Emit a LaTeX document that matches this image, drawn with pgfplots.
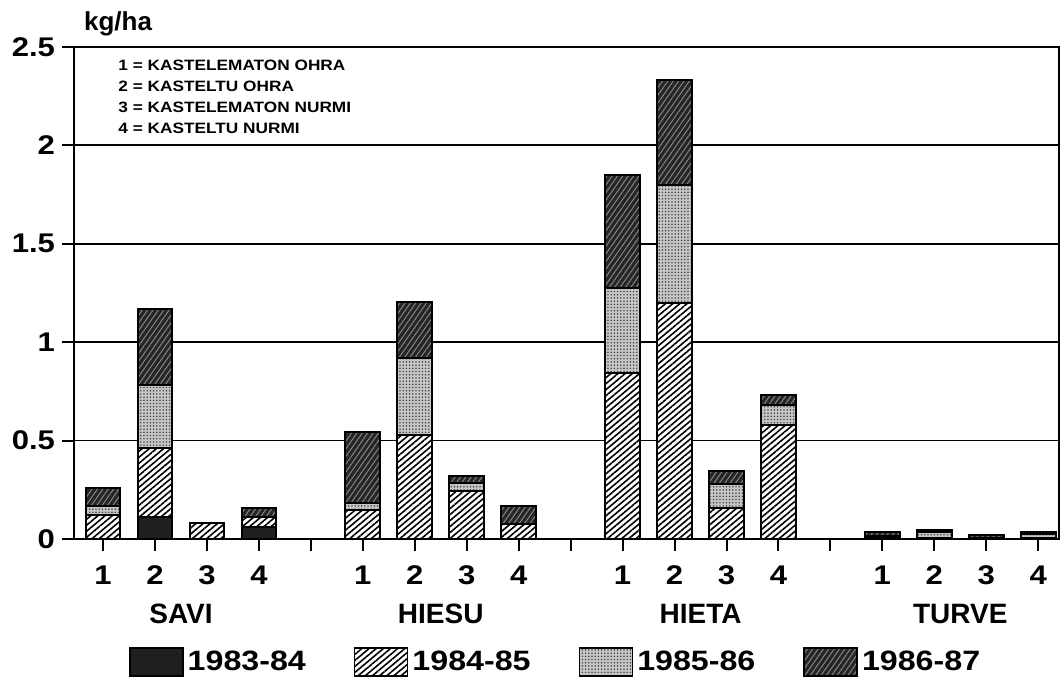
\documentclass[border=0pt]{standalone}
\usepackage{fontspec}
\setmainfont{Liberation Sans}[FakeStretch=1.15]
\newfontfamily\grpfont{Liberation Sans}
\usepackage{pgfplots}
\usepackage{pgfplotstable}
\pgfplotsset{compat=1.18}
\usetikzlibrary{patterns,patterns.meta}

\pgfplotstableread{
x    a b c d
0    0    0.12  0.05  0.09
1    0.11 0.35  0.32  0.39
2    0    0.08  0     0
3    0.06 0.05  0     0.05
5    0    0.145 0.04  0.36
6    0    0.53  0.39  0.285
7    0    0.245 0.04  0.035
8    0    0.075 0     0.095
10   0    0.845 0.43  0.575
11   0    1.20  0.60  0.53
12   0    0.16  0.12  0.065
13   0    0.58  0.10  0.05
15   0    0.005 0.01  0.02
16   0    0.005 0.03  0.01
17   0    0.005 0     0.015
18   0    0.005 0.02  0.01
}\datatable

\pgfplotsset{
  legimg/.style={legend image code/.code={\draw[##1,line width=0.8pt] (0pt,-7pt) rectangle (26.5pt,7pt);}},
  s83/.style={draw=black, line width=1pt, fill=black!88, legimg},
  s84/.style={draw=black, line width=1pt, fill=white,
     postaction={pattern={Lines[angle=40,distance=2.3pt,line width=0.8pt]}, pattern color=black}, legimg},
  s85/.style={draw=black, line width=1pt, fill=black!22,
     postaction={pattern={Dots[distance=1.6pt,radius=0.45pt]}, pattern color=black!70}, legimg},
  s86/.style={draw=black, line width=1pt, fill=black!85,
     postaction={pattern={Lines[angle=55,distance=2.2pt,line width=0.45pt]}, pattern color=black!45}, legimg},
}

\begin{document}
\begin{tikzpicture}
\begin{axis}[
  name=main,
  scale only axis,
  width=492.5pt, height=246pt,
  xmin=-0.56, xmax=18.4,
  ymin=0, ymax=2.5,
  ybar stacked,
  bar width=0.67,
  axis line style={line width=1pt},
  ymajorgrids,
  grid style={black, line width=0.9pt},
  tick style={black, line width=1pt},
  major tick length=6pt,
  tick align=outside,
  xtick pos=bottom, ytick pos=left,
  ytick={0,0.5,1,1.5,2,2.5},
  yticklabels={0,0.5,1,1.5,2,2.5},
  xtick={0,...,18},
  xticklabels={1,2,3,4,{},1,2,3,4,{},1,2,3,4,{},1,2,3,4},
  /pgf/number format/assume math mode=true,
  yticklabel style={font=\bfseries\fontsize{13.5}{15}\selectfont},
  xticklabel style={font=\bfseries\fontsize{13.5}{15}\selectfont, yshift=-4pt},
  extra x ticks={1.5,6.5,11.5,16.5},
  extra x tick labels={SAVI,HIESU,HIETA,TURVE},
  extra x tick style={major tick length=0pt, grid=none,
     xticklabel style={font=\grpfont\bfseries\fontsize{14}{16}\selectfont, yshift=-25pt}},
  ylabel={kg/ha},
  ylabel style={rotate=-90, at={(axis description cs:0.0447,1.0325)}, anchor=base,
     font=\grpfont\bfseries\fontsize{13}{15}\selectfont},
  legend style={at={(axis description cs:0.49,-0.25)}, anchor=center, draw=none,
     font=\bfseries\fontsize{14}{16}\selectfont, legend columns=4,
     /tikz/every even column/.append style={column sep=22pt}},
]
\addplot+[s83] table[x=x,y=a] {\datatable};
\addplot+[s84] table[x=x,y=b] {\datatable};
\addplot+[s85] table[x=x,y=c] {\datatable};
\addplot+[s86] table[x=x,y=d] {\datatable};
\legend{1983-84,1984-85,1985-86,1986-87}
\node[anchor=north west, align=left, inner sep=0pt,
      font=\bfseries\fontsize{7.5}{10.5}\selectfont]
  at (axis description cs:0.0447,0.974)
  {1 = KASTELEMATON OHRA\\2 = KASTELTU OHRA\\3 = KASTELEMATON NURMI\\4 = KASTELTU NURMI};
\end{axis}
\pgfresetboundingbox
\path[use as bounding box] ([xshift=-37pt,yshift=-71.5pt]main.south west) rectangle ([xshift=0.5pt,yshift=23.5pt]main.north east);
\end{tikzpicture}
\end{document}
